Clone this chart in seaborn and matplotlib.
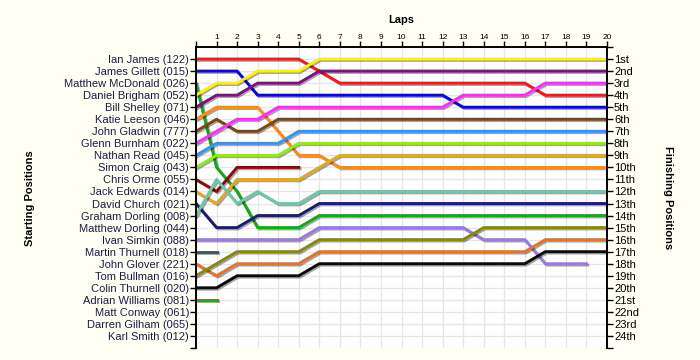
import pandas as pd
import seaborn as sns
import matplotlib.pyplot as plt
import matplotlib.patheffects as pe

# lap chart data: position of each driver at each lap (lap 0 = grid)
laps = list(range(21))

drivers = ["Ian James (122)", "James Gillett (015)", "Matthew McDonald (026)",
           "Daniel Brigham (052)", "Bill Shelley (071)", "Katie Leeson (046)",
           "John Gladwin (777)", "Glenn Burnham (022)", "Nathan Read (045)",
           "Simon Craig (043)", "Chris Orme (055)", "Jack Edwards (014)",
           "David Church (021)", "Graham Dorling (008)", "Matthew Dorling (044)",
           "Ivan Simkin (088)", "Martin Thurnell (018)", "John Glover (221)",
           "Tom Bullman (016)", "Colin Thurnell (020)", "Adrian Williams (081)",
           "Matt Conway (061)", "Darren Gilham (065)", "Karl Smith (012)"]

finish_labels = ["1st", "2nd", "3rd", "4th", "5th", "6th", "7th", "8th", "9th",
                 "10th", "11th", "12th", "13th", "14th", "15th", "16th", "17th",
                 "18th", "19th", "20th", "21st", "22nd", "23rd", "24th"]

pos_ian_james = [1, 1, 1, 1, 1, 1, 2, 3, 3, 3, 3, 3, 3, 3, 3, 3, 3, 4, 4, 4, 4]
pos_james_gillett = [2, 2, 2, 4, 4, 4, 4, 4, 4, 4, 4, 4, 4, 5, 5, 5, 5, 5, 5, 5, 5]
pos_matthew_mcdonald = [3, 10, 12, 15, 15, 15, 14, 14, 14, 14, 14, 14, 14, 14, 14, 14, 14, 14, 14, 14, 14]
pos_daniel_brigham = [4, 3, 3, 2, 2, 2, 1, 1, 1, 1, 1, 1, 1, 1, 1, 1, 1, 1, 1, 1, 1]
pos_bill_shelley = [5, 4, 4, 3, 3, 3, 2, 2, 2, 2, 2, 2, 2, 2, 2, 2, 2, 2, 2, 2, 2]
pos_katie_leeson = [6, 5, 5, 5, 7, 9, 9, 10, 10, 10, 10, 10, 10, 10, 10, 10, 10, 10, 10, 10, 10]
pos_john_gladwin = [7, 6, 7, 7, 6, 6, 6, 6, 6, 6, 6, 6, 6, 6, 6, 6, 6, 6, 6, 6, 6]
pos_glenn_burnham = [8, 7, 6, 6, 5, 5, 5, 5, 5, 5, 5, 5, 5, 4, 4, 4, 4, 3, 3, 3, 3]
pos_nathan_read = [9, 8, 8, 8, 8, 7, 7, 7, 7, 7, 7, 7, 7, 7, 7, 7, 7, 7, 7, 7, 7]
pos_simon_craig = [10, 9, 9, 9, 9, 8, 8, 8, 8, 8, 8, 8, 8, 8, 8, 8, 8, 8, 8, 8, 8]
pos_chris_orme = [11, 12, 10, 10, 10, 10]
pos_jack_edwards = [12, 13, 11, 11, 11, 11, 10, 9, 9, 9, 9, 9, 9, 9, 9, 9, 9, 9, 9, 9, 9]
pos_david_church = [13, 15, 15, 14, 14, 14, 13, 13, 13, 13, 13, 13, 13, 13, 13, 13, 13, 13, 13, 13, 13]
pos_graham_dorling = [14, 11, 13, 12, 13, 13, 12, 12, 12, 12, 12, 12, 12, 12, 12, 12, 12, 12, 12, 12, 12]
pos_matthew_dorling = []
pos_ivan_simkin = [16, 16, 16, 16, 16, 16, 15, 15, 15, 15, 15, 15, 15, 15, 16, 16, 16, 18, 18, 18]
pos_martin_thurnell = [17, 17]
pos_john_glover = [18, 19, 18, 18, 18, 18, 17, 17, 17, 17, 17, 17, 17, 17, 17, 17, 17, 16, 16, 16, 16]
pos_tom_bullman = [19, 18, 17, 17, 17, 17, 16, 16, 16, 16, 16, 16, 16, 16, 15, 15, 15, 15, 15, 15, 15]
pos_colin_thurnell = [20, 20, 19, 19, 19, 19, 18, 18, 18, 18, 18, 18, 18, 18, 18, 18, 18, 17, 17, 17, 17]
pos_adrian_williams = [21, 21]
pos_matt_conway = []
pos_darren_gilham = []
pos_karl_smith = []

colors = ["#ee1c1c", "#0a0ad0", "#16a616", "#ffee10", "#801080", "#ff8a1a",
          "#7a4616", "#ff2cff", "#3494f0", "#8aee18", "#8a0a0a", "#e0aa28",
          "#1c1c70", "#6cc8a8", "#404040", "#9a7ae0", "#3a5a5a", "#e07430",
          "#868610", "#0c0c0c", "#20a820", "#404040", "#404040", "#404040"]

series = [pos_ian_james, pos_james_gillett, pos_matthew_mcdonald, pos_daniel_brigham,
          pos_bill_shelley, pos_katie_leeson, pos_john_gladwin, pos_glenn_burnham,
          pos_nathan_read, pos_simon_craig, pos_chris_orme, pos_jack_edwards,
          pos_david_church, pos_graham_dorling, pos_matthew_dorling, pos_ivan_simkin,
          pos_martin_thurnell, pos_john_glover, pos_tom_bullman, pos_colin_thurnell,
          pos_adrian_williams, pos_matt_conway, pos_darren_gilham, pos_karl_smith]

# long form table for seaborn
rows = []
for name, pos in zip(drivers, series):
    for lap, p in zip(laps, pos):
        rows.append({"driver": name, "lap": lap, "pos": p})
df = pd.DataFrame(rows)
palette = dict(zip(drivers, colors))
order = [d for d, s in zip(drivers, series) if len(s) > 0]

plt.rcParams['font.family'] = ['Liberation Sans', 'DejaVu Sans']

bg = "#fffff4"
fig = plt.figure(figsize=(7, 3.6), dpi=100, facecolor=bg)
ax = fig.add_axes([196 / 700, 12 / 360, 411 / 700, 301 / 360])
ax.set_facecolor("white")

shadow = [pe.SimpleLineShadow(offset=(1, -1), shadow_color="black", alpha=0.35), pe.Normal()]
sns.lineplot(data=df, x="lap", y="pos", hue="driver", hue_order=order, palette=palette,
             estimator=None, sort=False, legend=False, lw=2.1, path_effects=shadow, ax=ax)

ax.set_xlim(0, 20)
ax.set_ylim(25, 0)
ax.set_axisbelow(True)
ax.grid(True, color="#e6e6e6", lw=0.9)

# laps along the top
ax.xaxis.tick_top()
ax.xaxis.set_label_position("top")
ax.set_xticks(laps)
ax.set_xticklabels([""] + [str(l) for l in laps[1:]])
ax.tick_params(axis="x", length=4, labelsize=6, pad=0.5, width=1)
ax.set_xlabel("Laps", fontsize=8, fontweight="bold", labelpad=8)

# starting positions on the left
ax.set_yticks(range(1, 26))
ax.set_yticklabels(drivers + [""], color="#1c1c48")
ax.tick_params(axis="y", length=4, labelsize=8, pad=1, width=1)
ax.set_ylabel("")

# finishing positions on the right
ax2 = ax.twinx()
ax2.set_ylim(25, 0)
ax2.set_yticks(range(0, 26))
ax2.set_yticklabels([""] + finish_labels + [""])
ax2.tick_params(axis="y", length=4, labelsize=8, pad=1, width=1)

for a in (ax, ax2):
    a.spines["bottom"].set_visible(False)
    for s in ("top", "left", "right"):
        a.spines[s].set_linewidth(1.2)

fig.text(30 / 700, 0.45, "Starting Positions", rotation=90, ha="center", va="center",
         fontsize=8, fontweight="bold")
fig.text(668 / 700, 0.45, "Finishing Positions", rotation=270, ha="center", va="center",
         fontsize=8, fontweight="bold")

fig.savefig("out.png", dpi=100, facecolor=bg)
